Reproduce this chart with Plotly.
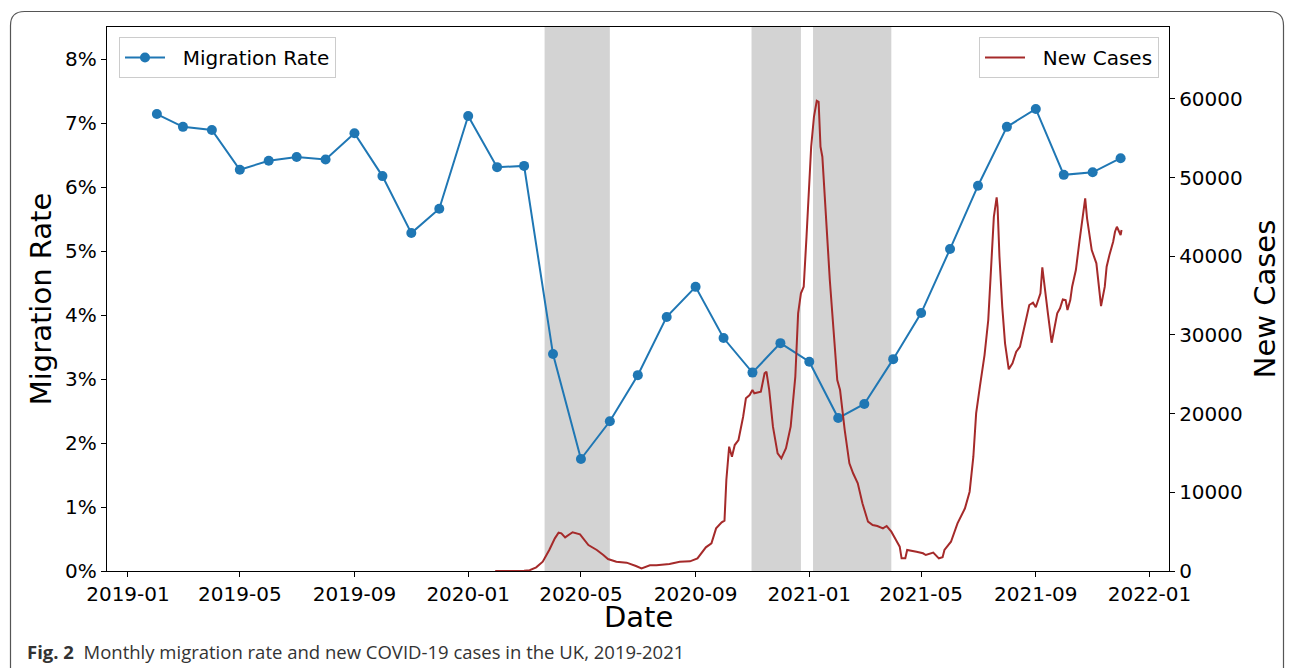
import plotly.graph_objects as go

# ---------------- data ----------------
months = ['2019-02-01', '2019-03-01', '2019-04-01', '2019-05-01', '2019-06-01', '2019-07-01',
          '2019-08-01', '2019-09-01', '2019-10-01', '2019-11-01', '2019-12-01', '2020-01-01',
          '2020-02-01', '2020-03-01', '2020-04-01', '2020-05-01', '2020-06-01', '2020-07-01',
          '2020-08-01', '2020-09-01', '2020-10-01', '2020-11-01', '2020-12-01', '2021-01-01',
          '2021-02-01', '2021-03-01', '2021-04-01', '2021-05-01', '2021-06-01', '2021-07-01',
          '2021-08-01', '2021-09-01', '2021-10-01', '2021-11-01', '2021-12-01']
migration_rate = [7.14, 6.94, 6.89, 6.27, 6.41, 6.47, 6.43, 6.84, 6.17, 5.28, 5.66, 7.11,
                  6.31, 6.33, 3.39, 1.75, 2.34, 3.06, 3.97, 4.44, 3.64, 3.10, 3.56, 3.27,
                  2.39, 2.61, 3.31, 4.03, 5.03, 6.02, 6.94, 7.22, 6.19, 6.23, 6.45]

case_dates = ['2020-01-30', '2020-02-15', '2020-03-01', '2020-03-07', '2020-03-14', '2020-03-21',
              '2020-03-28', '2020-04-03', '2020-04-07', '2020-04-10', '2020-04-14', '2020-04-22',
              '2020-04-30', '2020-05-09', '2020-05-18', '2020-05-25', '2020-05-30', '2020-06-08',
              '2020-06-19', '2020-06-29', '2020-07-05', '2020-07-14', '2020-07-21', '2020-08-04',
              '2020-08-15', '2020-08-26', '2020-09-03', '2020-09-12', '2020-09-18', '2020-09-23',
              '2020-09-29', '2020-10-02', '2020-10-04', '2020-10-07', '2020-10-10', '2020-10-13',
              '2020-10-17', '2020-10-22', '2020-10-25', '2020-10-29', '2020-11-01', '2020-11-03',
              '2020-11-10', '2020-11-14', '2020-11-16', '2020-11-19', '2020-11-23', '2020-11-28',
              '2020-12-02', '2020-12-07', '2020-12-12', '2020-12-17', '2020-12-20', '2020-12-23',
              '2020-12-26', '2020-12-29', '2021-01-03', '2021-01-06', '2021-01-09', '2021-01-11',
              '2021-01-13', '2021-01-15', '2021-01-18', '2021-01-23', '2021-01-27', '2021-01-31',
              '2021-02-03', '2021-02-08', '2021-02-13', '2021-02-17', '2021-02-22', '2021-02-27',
              '2021-03-05', '2021-03-10', '2021-03-15', '2021-03-21', '2021-03-25', '2021-03-30',
              '2021-04-04', '2021-04-08', '2021-04-10', '2021-04-14', '2021-04-16', '2021-04-22',
              '2021-04-26', '2021-05-03', '2021-05-06', '2021-05-14', '2021-05-20', '2021-05-24',
              '2021-05-26', '2021-06-02', '2021-06-09', '2021-06-17', '2021-06-22', '2021-06-26',
              '2021-06-29', '2021-07-03', '2021-07-08', '2021-07-12', '2021-07-15', '2021-07-18',
              '2021-07-21', '2021-07-22', '2021-07-24', '2021-07-27', '2021-07-30', '2021-08-03',
              '2021-08-07', '2021-08-11', '2021-08-15', '2021-08-18', '2021-08-22', '2021-08-25',
              '2021-08-29', '2021-09-01', '2021-09-06', '2021-09-08', '2021-09-14', '2021-09-18',
              '2021-09-24', '2021-09-27', '2021-09-30', '2021-10-03', '2021-10-05', '2021-10-08',
              '2021-10-10', '2021-10-14', '2021-10-18', '2021-10-22', '2021-10-24', '2021-10-26',
              '2021-10-29', '2021-10-31', '2021-11-05', '2021-11-08', '2021-11-10', '2021-11-14',
              '2021-11-16', '2021-11-19', '2021-11-23', '2021-11-25', '2021-11-27', '2021-12-01',
              '2021-12-02']
new_cases = [0, 0, 20, 100, 470, 1180,
             2670, 4150, 4870, 4790, 4280, 4920,
             4660, 3300, 2670, 2030, 1525, 1180,
             1060, 635, 340, 720, 720, 890,
             1180, 1230, 1610, 3010, 3520, 5420,
             6190, 6400, 11570, 15800, 14530, 16010,
             16650, 19610, 21950, 22370, 23000, 22590,
             22790, 25130, 25330, 23000, 18340, 14960,
             14320, 15600, 18340, 24700, 32750, 35290,
             36140, 42490, 53930, 57740, 59780, 59650,
             53930, 52660, 46730, 36990, 30630, 24280,
             23000, 17920, 13690, 12420, 11150, 8600,
             6270, 5850, 5720, 5420, 5720, 5000,
             3940, 3090, 1610, 1610, 2670, 2580,
             2450, 2250, 2030, 2330, 1610, 1740,
             2670, 3720, 6060, 7970, 10080, 14530,
             20040, 23430, 27450, 31900, 38260, 45030,
             47490, 46300, 40000, 33600, 28940, 25640,
             26400, 27880, 28510, 30210, 32330, 33810,
             34100, 33520, 35290, 38600, 32750, 29020,
             32750, 33390, 34530, 34440, 33170, 34440,
             36140, 38260, 42070, 45880, 47370, 44830,
             42070, 40800, 39110, 35290, 33680, 36140,
             38680, 40160, 41850, 43130, 43760, 42710,
             43340]

lockdown_start = ['2020-03-23', '2020-10-31', '2021-01-05']
lockdown_end = ['2020-06-01', '2020-12-23', '2021-03-30']

x_ticks = ['2019-01-01', '2019-05-01', '2019-09-01', '2020-01-01', '2020-05-01', '2020-09-01',
           '2021-01-01', '2021-05-01', '2021-09-01', '2022-01-01']
y_ticks = [0, 1, 2, 3, 4, 5, 6, 7, 8]
y_tick_text = ['0%', '1%', '2%', '3%', '4%', '5%', '6%', '7%', '8%']
y2_ticks = [0, 10000, 20000, 30000, 40000, 50000, 60000]

caption = "<b>Fig. 2</b>  Monthly migration rate and new COVID-19 cases in the UK, 2019-2021"

# ---------------- geometry ----------------
W, H = 1293, 668
PL, PR, PT, PB = 107, 1169, 27, 571


def px(x):
    return (x - PL) / (PR - PL)


def py(y):
    return (PB - y) / (PB - PT)


NB = '\u00a0'

fig = go.Figure()

fig.add_trace(go.Scatter(
    x=months, y=migration_rate, name=NB + NB + 'Migration Rate', mode='lines+markers',
    line=dict(color='#1f77b4', width=2), marker=dict(color='#1f77b4', size=10),
    yaxis='y', legend='legend'))

fig.add_trace(go.Scatter(
    x=case_dates, y=new_cases, name=NB + NB + 'New Cases', mode='lines',
    line=dict(color='#a52a2a', width=2), yaxis='y2', legend='legend2'))

shapes = []
for s, e in zip(lockdown_start, lockdown_end):
    shapes.append(dict(type='rect', xref='x', yref='paper', x0=s, x1=e, y0=0, y1=1,
                       fillcolor='#d3d3d3', line=dict(width=0), layer='below'))

# rounded frame around the figure
L, T, R, B, r = 10.5, 11.5, 1283.5, 700, 14
path = (f"M {px(L)},{py(B)} L {px(L)},{py(T + r)} Q {px(L)},{py(T)} {px(L + r)},{py(T)} "
        f"L {px(R - r)},{py(T)} Q {px(R)},{py(T)} {px(R)},{py(T + r)} L {px(R)},{py(B)}")
shapes.append(dict(type='path', xref='paper', yref='paper', path=path,
                   line=dict(color='#555555', width=1.2), layer='above'))

fig.update_layout(
    width=W, height=H,
    margin=dict(l=PL, r=W - PR, t=PT, b=H - PB),
    paper_bgcolor='white', plot_bgcolor='white',
    font=dict(family='DejaVu Sans', size=20, color='black'),
    shapes=shapes,
    showlegend=True,
    xaxis=dict(type='date', range=['2018-12-09 12:00', '2022-01-21 22:00'],
               tickvals=x_ticks, tickformat='%Y-%m', ticks='outside', ticklen=5,
               tickwidth=1, tickcolor='black', showline=True, linecolor='black',
               linewidth=1.3, mirror=True, showgrid=False, zeroline=False,
               tickfont=dict(size=20), automargin=False),
    yaxis=dict(range=[0, 8.5], tickmode='array', tickvals=y_ticks, ticktext=y_tick_text,
               ticks='outside', ticklen=5, tickwidth=1, tickcolor='black', showline=True,
               linecolor='black', linewidth=1.3, mirror=True, showgrid=False,
               zeroline=False, tickfont=dict(size=20), automargin=False,
               title=dict(text='Migration Rate', font=dict(size=29), standoff=4)),
    yaxis2=dict(range=[0, 69150], tickvals=y2_ticks, tickformat='d', overlaying='y',
                side='right', ticks='outside', ticklen=5, tickwidth=1, tickcolor='black',
                showline=True, linecolor='black', linewidth=1.3, showgrid=False,
                zeroline=False, tickfont=dict(size=20), automargin=False,
                title=dict(text='New Cases', font=dict(size=29), standoff=12)),
    legend=dict(x=px(119), y=py(37), xanchor='left', yanchor='top',
                bgcolor='rgba(255,255,255,0.8)', bordercolor='#cccccc', borderwidth=1,
                font=dict(size=20), itemwidth=40),
    legend2=dict(x=px(1159), y=py(37), xanchor='right', yanchor='top',
                 bgcolor='rgba(255,255,255,0.8)', bordercolor='#cccccc', borderwidth=1,
                 font=dict(size=20), itemwidth=40),
    annotations=[
        dict(text='Date', xref='paper', yref='paper', x=0.5, y=py(617),
             xanchor='center', yanchor='middle', showarrow=False,
             font=dict(family='DejaVu Sans', size=29, color='black')),
        dict(text=caption, xref='paper', yref='paper', x=px(25), y=py(651),
             xanchor='left', yanchor='middle', showarrow=False,
             font=dict(family='Open Sans, sans-serif', size=18.5, color='#333333'))],
)

fig.write_html("out.html", config={'displayModeBar': False},
               post_script="document.body.style.margin='0px';")
